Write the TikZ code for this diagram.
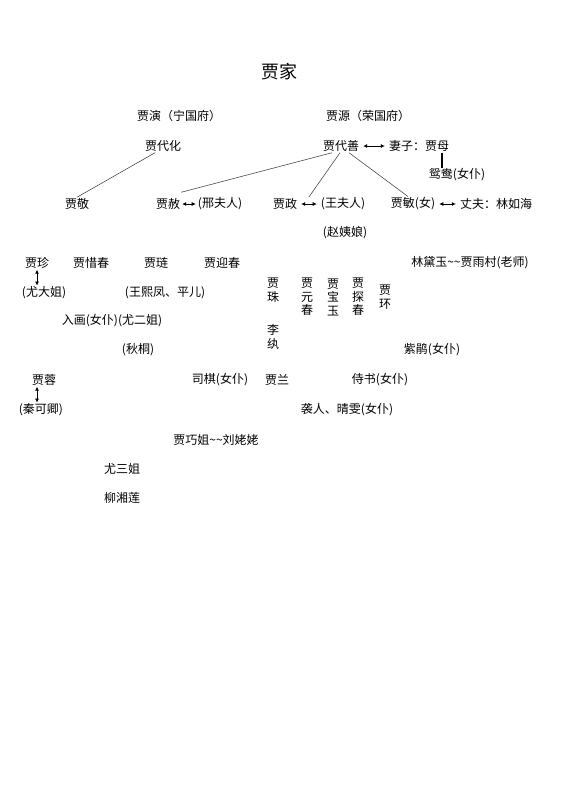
\documentclass[tikz,border=0pt]{standalone}
\usepackage{fontspec}
\newfontfamily\cjk{Noto Sans CJK SC}
\usetikzlibrary{arrows.meta,calc}
\tikzset{
  person/.style={font=\cjk\fontsize{12}{13.5}\selectfont, inner sep=1pt, align=center},
  title/.style={font=\cjk\fontsize{18}{20}\selectfont, inner sep=1pt},
  line/.style={draw=black!70, line width=.6pt},
  spouse/.style={<->, >={Latex[length=4pt,width=4pt]}, line width=.7pt,
    shorten <=3pt, shorten >=3pt},
  couple/.style={<->, >={Latex[length=4pt,width=4pt]}, line width=.7pt},
  maid/.style={line width=1.3pt}
}
\begin{document}
\begin{tikzpicture}[x=1pt,y=-1pt]
  \useasboundingbox (0,0) rectangle (560,792);

  \node[title] (jia) at (279,72) {贾家};

  % two houses
  \node[person] (jyan) at (179,116) {贾演（宁国府）};
  \node[person] (jyuan) at (368,116) {贾源（荣国府）};
  \node[person] (jdh) at (163,146) {贾代化};
  \node[person] (jds) at (341,146) {贾代善};
  \node[person] (jmu) at (419,146) {妻子：贾母};
  \node[person] (yy) at (457,175) {鸳鸯(女仆)};

  % second generation
  \node[person] (jjing) at (77,204) {贾敬};
  \node[person] (jshe) at (168,204) {贾赦};
  \node[person] (xfr) at (220,204) {(邢夫人)};
  \node[person] (jzh) at (285,204) {贾政};
  \node[person] (wfr) at (343,204) {(王夫人)};
  \node[person] (zyn) at (345,233) {(赵姨娘)};
  \node[person] (jmin) at (413,204) {贾敏(女)};
  \node[person] (lrh) at (496,204) {丈夫：林如海};

  \draw[line] ($(jdh.south)+(-8,0)$) -- (jjing.north);
  \draw[line] ($(jds.south)+(-9,0)$) -- ($(jshe.north east)+(0,-5)$);
  \draw[line] ($(jds.south)+(-1,0)$) -- ($(jzh.north east)!.5!(wfr.north west)$);
  \draw[line] ($(jds.south)+(8,0)$) -- ($(jmin.north)+(-5,0)$);
  \draw[spouse] (jds.east) -- (jmu.west);
  \draw[maid] ($(jmu.south)+(23,0)$) -- ($(yy.north)+(-15,0)$);
  \draw[spouse, shorten <=1pt, shorten >=1pt] (jshe.east) -- (xfr.west);
  \draw[spouse] (jzh.east) -- (wfr.west);
  \draw[spouse] (jmin.east) -- (lrh.west);

  % third generation
  \node[person] (jzhen) at (37,263) {贾珍};
  \node[person] (ydj) at (44,293) {(尤大姐)};
  \node[person] (jxc) at (91,263) {贾惜春};
  \node[person] (jlian) at (156,263) {贾琏};
  \node[person] (wxf) at (165,293) {(王熙凤、平儿)};
  \node[person] (jyc) at (222,263) {贾迎春};
  \node[person] (rh) at (112,321) {入画(女仆)(尤二姐)};
  \node[person] (qt) at (138,350) {(秋桐)};
  \node[person] (jzhu) at (273,290) {贾\\珠};
  \node[person] (ln) at (273,337) {李\\纨};
  \node[person] (jyuanc) at (307,297) {贾\\元\\春};
  \node[person] (jby) at (333,297) {贾\\宝\\玉};
  \node[person] (jtc) at (358,297) {贾\\探\\春};
  \node[person] (jhuan) at (385,297) {贾\\环};
  \node[person] (ldy) at (470,263) {林黛玉\textasciitilde\textasciitilde 贾雨村(老师)};
  \node[person] (zj) at (432,350) {紫鹃(女仆)};

  \draw[couple] (jzhen.south) -- (jzhen.south |- ydj.north);

  % fourth generation
  \node[person] (jrong) at (44,380) {贾蓉};
  \node[person] (qkq) at (41,410) {(秦可卿)};
  \node[person] (sq) at (220,380) {司棋(女仆)};
  \node[person] (jlan) at (277,380) {贾兰};
  \node[person] (ss) at (380,380) {侍书(女仆)};
  \node[person] (xr) at (347,410) {袭人、晴雯(女仆)};
  \node[person] (jqj) at (216,440) {贾巧姐\textasciitilde\textasciitilde 刘姥姥};
  \node[person] (ysj) at (122,469) {尤三姐};
  \node[person] (lxl) at (122,498) {柳湘莲};

  \coordinate (jrs) at ($(jrong.south)+(-7,0)$);
  \draw[couple] (jrs) -- (jrs |- qkq.north);
\end{tikzpicture}
\end{document}
